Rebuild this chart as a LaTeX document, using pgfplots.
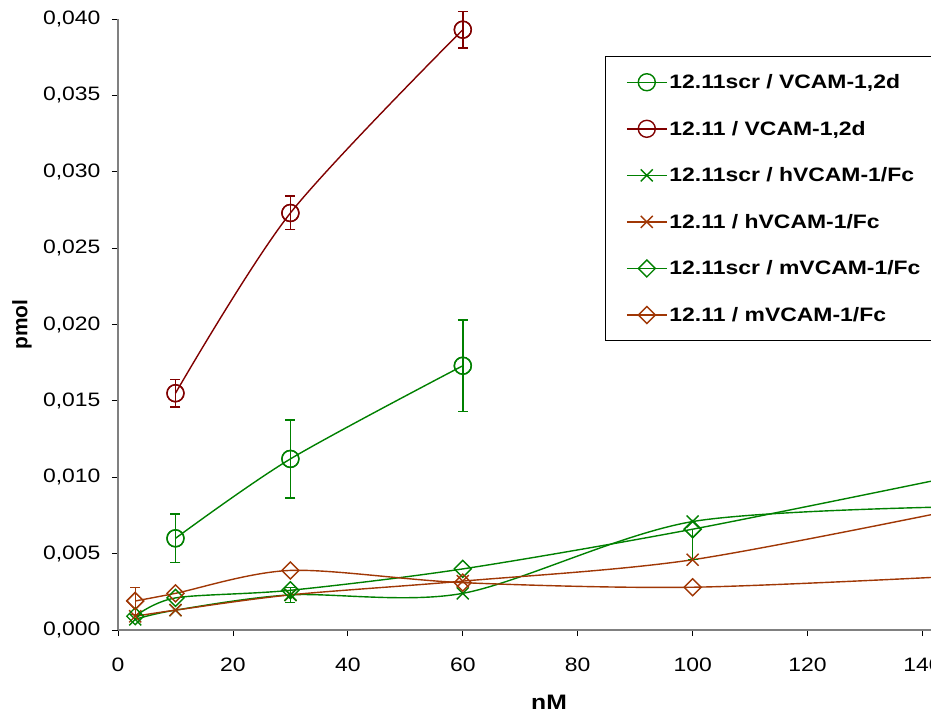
\documentclass[border=0pt]{standalone}
\usepackage{pgfplots}
\pgfplotsset{compat=1.18}
\usepackage{fontspec}
\setmainfont{Liberation Sans}[FakeStretch=1.18]
\newfontfamily\plainfont{Liberation Sans}
\definecolor{cgreen}{RGB}{0,128,0}
\definecolor{cred}{RGB}{128,0,0}
\definecolor{cbrown}{RGB}{160,55,5}

\begin{document}
\begin{tikzpicture}
\begin{axis}[name=ax, scale only axis, width=862bp, height=611bp,
  xmin=0, xmax=150, ymin=0, ymax=0.040, clip=false,
  axis x line=bottom, axis y line=left,
  axis line style={-, draw=gray, line width=1.6bp},
  xtick={0,20,40,60,80,100,120,140},
  ytick={0,0.005,0.010,0.015,0.020,0.025,0.030,0.035,0.040},
  tick align=outside, major tick length=6bp,
  tick style={black, line width=0.8bp},
  scaled y ticks=false,
  ticklabel style={font=\fontsize{19.5}{23}\selectfont},
  yticklabel style={xshift=-8bp, /pgf/number format/.cd, fixed, fixed zerofill, precision=3, use comma, assume math mode=true},
  xticklabel style={yshift=-18bp, /pgf/number format/assume math mode=true},
  legend style={at={(axis description cs:0.5645,0.9395)}, anchor=north west,
    draw=black, line width=1bp, fill=white,
    font=\fontsize{19.5}{23}\selectfont\bfseries,
    row sep=27bp, inner xsep=21bp, inner ysep=16bp,
    cells={anchor=west},
    /tikz/every even column/.append style={column sep=8bp}},
  legend image post style={line width=1.4bp},
  legend image code/.code={\draw[mark repeat=2,mark phase=2] plot coordinates {(0bp,0bp) (20bp,0bp) (40bp,0bp)};},
  every axis plot/.append style={line width=1.4bp, mark options={solid, fill=none}},
  error bars/error bar style={line width=1.4bp},
  error bars/error mark options={rotate=90, mark size=5bp, line width=1.4bp},
]
% 12.11scr / VCAM-1,2d
\addplot[cgreen, smooth, mark=o, mark size=8.5bp] table {
x y
10 0.0060
30 0.0112
60 0.0173
};
\addlegendentry{12.11scr / VCAM-1,2d}
% 12.11 / VCAM-1,2d
\addplot[cred, smooth, mark=o, mark size=8.5bp] table {
x y
10 0.0155
30 0.0273
60 0.0393
};
\addlegendentry{12.11 / VCAM-1,2d}
% 12.11scr / hVCAM-1/Fc
\addplot[cgreen, smooth, mark=x, mark size=8.5bp] table {
x y
3 0.0007
10 0.0013
30 0.0023
60 0.0024
100 0.0071
150 0.0081
};
\addlegendentry{12.11scr / hVCAM-1/Fc}
% 12.11 / hVCAM-1/Fc
\addplot[cbrown, smooth, mark=x, mark size=8.5bp] table {
x y
3 0.0009
10 0.0013
30 0.0023
60 0.0032
100 0.0046
150 0.0082
};
\addlegendentry{12.11 / hVCAM-1/Fc}
% 12.11scr / mVCAM-1/Fc
\addplot[cgreen, smooth, mark=square, mark size=6bp, mark options={rotate=45}] table {
x y
3 0.0009
10 0.0021
30 0.0026
60 0.0040
100 0.0066
150 0.0104
};
\addlegendentry{12.11scr / mVCAM-1/Fc}
% 12.11 / mVCAM-1/Fc
\addplot[cbrown, smooth, mark=square, mark size=6bp, mark options={rotate=45}] table {
x y
3 0.0019
10 0.0024
30 0.0039
60 0.0031
100 0.0028
150 0.0036
};
\addlegendentry{12.11 / mVCAM-1/Fc}
% error bars (drawn on repeated markers of the same series)
\addplot[forget plot, cgreen, only marks, mark=o, mark size=8.5bp,
  error bars/.cd, y dir=both, y explicit] table[x=x, y=y, y error plus=ep, y error minus=em] {
x y ep em
10 0.0060 0.0016 0.0016
30 0.0112 0.00255 0.00255
60 0.0173 0.0030 0.0030
};
\addplot[forget plot, cred, only marks, mark=o, mark size=8.5bp,
  error bars/.cd, y dir=both, y explicit] table[x=x, y=y, y error plus=ep, y error minus=em] {
x y ep em
10 0.0155 0.0009 0.0009
30 0.0273 0.0011 0.0011
60 0.0393 0.0012 0.0012
};
\addplot[forget plot, cgreen, only marks, mark=x, mark size=8.5bp,
  error bars/.cd, y dir=both, y explicit] table[x=x, y=y, y error plus=ep, y error minus=em] {
x y ep em
30 0.0023 0.0005 0.0005
};
\addplot[forget plot, cbrown, only marks, mark=square, mark size=6bp, mark options={rotate=45},
  error bars/.cd, y dir=both, y explicit] table[x=x, y=y, y error plus=ep, y error minus=em] {
x y ep em
3 0.0019 0.0009 0.0009
};
\addplot[forget plot, cgreen, only marks, mark=square, mark size=6bp, mark options={rotate=45},
  error bars/.cd, y dir=minus, y explicit] table[x=x, y=y, y error minus=em] {
x y em
100 0.0066 0.0020
};
\end{axis}
\node[font=\fontsize{21}{25}\selectfont\bfseries, anchor=center] at ([yshift=-72bp]ax.south) {nM};
\node[font=\plainfont\fontsize{21}{25}\selectfont\bfseries, rotate=90, anchor=center] at ([xshift=-96bp]ax.west) {pmol};
\pgfresetboundingbox
\path[use as bounding box] ([xshift=-118bp,yshift=-87bp]ax.south west) rectangle ([xshift=813bp,yshift=630bp]ax.south west);
\end{tikzpicture}
\end{document}
